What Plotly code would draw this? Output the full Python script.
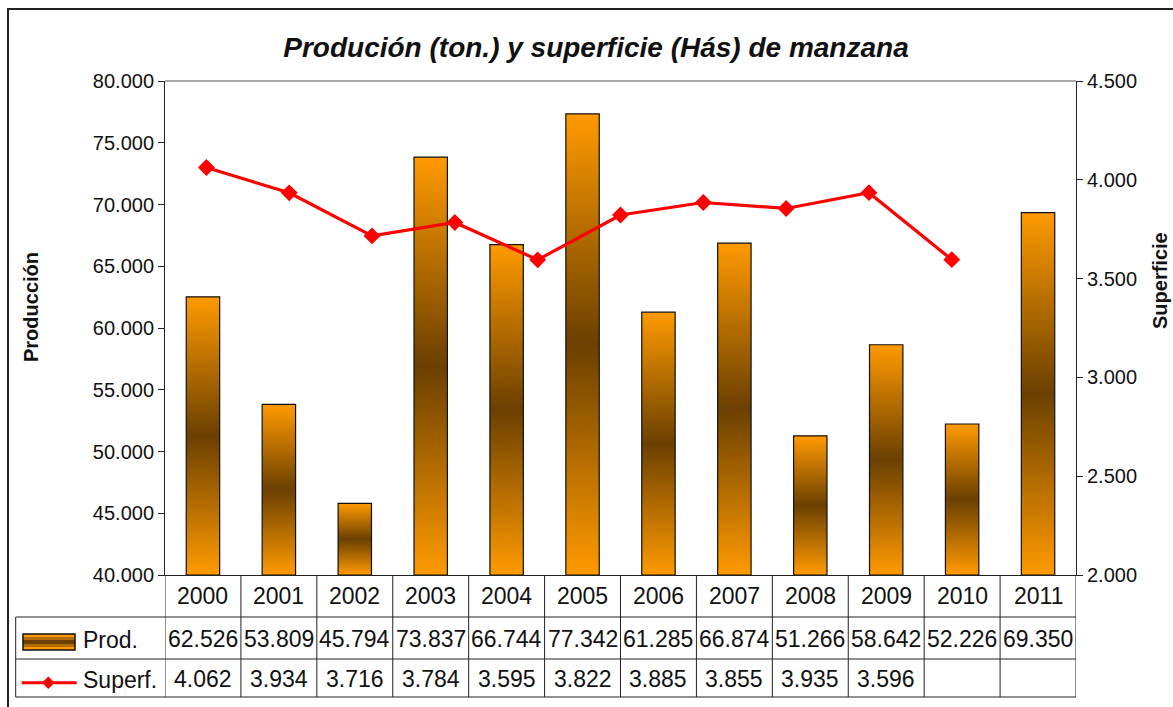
import plotly.graph_objects as go

# ---------------- data ----------------
years = ["2000", "2001", "2002", "2003", "2004", "2005", "2006",
         "2007", "2008", "2009", "2010", "2011"]
prod = [62526, 53809, 45794, 73837, 66744, 77342, 61285,
        66874, 51266, 58642, 52226, 69350]
superf = [4062, 3934, 3716, 3784, 3595, 3822, 3885, 3855, 3935, 3596]
# the line sits on its own category axis with 11 slots (last one empty)
superf_slots = 11

title_text = "Produción (ton.) y superficie (Hás) de manzana"
y1_title = "Producción"
y2_title = "Superficie"
row_labels = ["Prod.", "Superf."]

# ---------------- style ----------------
FONT = "Liberation Sans, Arial, sans-serif"
ORANGE = "#FF9A00"
DARK = "#6B4000"
MID = "#B46C00"
RED = "#FF0000"
W, H = 1173, 707
L, R, T, B = 165, 97, 81, 132
PW, PH = W - L - R, H - T - B
BAR_W = 0.44
BASE = 40000


def fx(p):  # pixel x -> paper x (layout decoration only)
    return (p - L) / PW


def fy(p):  # pixel y -> paper y (layout decoration only)
    return (H - B - p) / PH


def fmt(v):
    return f"{v:,}".replace(",", ".")


fig = go.Figure()

# bars with vertical gradient (orange - dark brown - orange)
for i, v in enumerate(prod):
    x0, x1 = i - BAR_W / 2, i + BAR_W / 2
    fig.add_trace(go.Scatter(
        x=[x0, x1, x1, x0, x0], y=[BASE, BASE, v, v, BASE],
        mode="lines", fill="toself",
        fillgradient=dict(type="vertical",
                          colorscale=[[0, ORANGE], [0.5, DARK], [1, ORANGE]]),
        line=dict(color="#111111", width=1.2),
        hoverinfo="skip", showlegend=False, xaxis="x", yaxis="y"))

# surface line
fig.add_trace(go.Scatter(
    x=list(range(len(superf))), y=superf, mode="lines+markers",
    line=dict(color=RED, width=3.2),
    marker=dict(symbol="diamond", size=13, color=RED),
    showlegend=False, xaxis="x2", yaxis="y2", name="Superf."))

shapes = []
annotations = []

# top border of plot area (gray)
shapes.append(dict(type="line", xref="paper", yref="paper", x0=0, x1=1,
                   y0=1, y1=1, line=dict(color="#8c8c8c", width=1.5)))

# data table grid
line_c = dict(color="#222222", width=1)
for k in range(len(years) + 1):
    shapes.append(dict(type="line", xref="x", yref="paper",
                       x0=k - 0.5, x1=k - 0.5, y0=fy(697), y1=0, line=line_c))
for py in (617, 659, 697):
    shapes.append(dict(type="line", xref="paper", yref="paper",
                       x0=fx(15.7), x1=1, y0=fy(py), y1=fy(py), line=line_c))
shapes.append(dict(type="line", xref="paper", yref="paper",
                   x0=fx(15.7), x1=fx(15.7), y0=fy(617), y1=fy(697), line=line_c))

# outer chart border
shapes.append(dict(type="rect", xref="paper", yref="paper",
                   x0=fx(8), x1=fx(1190), y0=fy(9), y1=fy(725),
                   line=dict(color="#222222", width=2)))

# legend keys inside the table
shapes.append(dict(type="rect", xref="paper", yref="paper",
                   x0=fx(23), x1=fx(75), y0=fy(634), y1=fy(650),
                   fillcolor=ORANGE, line=dict(width=0)))
shapes.append(dict(type="rect", xref="paper", yref="paper",
                   x0=fx(23), x1=fx(75), y0=fy(637), y1=fy(647),
                   fillcolor=MID, line=dict(width=0)))
shapes.append(dict(type="rect", xref="paper", yref="paper",
                   x0=fx(23), x1=fx(75), y0=fy(640), y1=fy(644),
                   fillcolor=DARK, line=dict(width=0)))
shapes.append(dict(type="rect", xref="paper", yref="paper",
                   x0=fx(23), x1=fx(75), y0=fy(634), y1=fy(650),
                   fillcolor="rgba(0,0,0,0)", line=dict(color="#111111", width=1.5)))
shapes.append(dict(type="line", xref="paper", yref="paper",
                   x0=fx(21.7), x1=fx(76.7), y0=fy(682.7), y1=fy(682.7),
                   line=dict(color=RED, width=3)))
cx, cy, d = 48.3, 682.7, 6
shapes.append(dict(type="path", xref="paper", yref="paper",
                   path=(f"M {fx(cx)},{fy(cy - d)} L {fx(cx + d)},{fy(cy)} "
                         f"L {fx(cx)},{fy(cy + d)} L {fx(cx - d)},{fy(cy)} Z"),
                   fillcolor=RED, line=dict(color=RED, width=0.5)))

TFONT = dict(family=FONT, size=23, color="#111111")
# years row
for i, yr in enumerate(years):
    annotations.append(dict(x=i, y=fy(596), xref="x", yref="paper", text=yr,
                            showarrow=False, font=TFONT, xanchor="center",
                            yanchor="middle"))
# production row
for i, v in enumerate(prod):
    annotations.append(dict(x=i, y=fy(639), xref="x", yref="paper", text=fmt(v),
                            showarrow=False, font=TFONT, xanchor="center",
                            yanchor="middle"))
# surface row
for i, v in enumerate(superf):
    annotations.append(dict(x=i, y=fy(679), xref="x", yref="paper", text=fmt(v),
                            showarrow=False, font=TFONT, xanchor="center",
                            yanchor="middle"))
# row labels
annotations.append(dict(x=fx(81), y=fy(640), xref="paper", yref="paper",
                        text=row_labels[0], showarrow=False, font=TFONT,
                        xanchor="left", yanchor="middle"))
annotations.append(dict(x=fx(81), y=fy(680), xref="paper", yref="paper",
                        text=row_labels[1], showarrow=False, font=TFONT,
                        xanchor="left", yanchor="middle"))

# axis titles
annotations.append(dict(x=fx(31), y=fy(307), xref="paper", yref="paper",
                        text=f"<b>{y1_title}</b>", textangle=-90, showarrow=False,
                        font=dict(family=FONT, size=20, color="#111111"),
                        xanchor="center", yanchor="middle"))
annotations.append(dict(x=fx(1160), y=fy(281), xref="paper", yref="paper",
                        text=f"<b>{y2_title}</b>", textangle=-90, showarrow=False,
                        font=dict(family=FONT, size=20, color="#111111"),
                        xanchor="center", yanchor="middle"))

fig.update_layout(
    width=W, height=H,
    margin=dict(l=L, r=R, t=T, b=B, autoexpand=False),
    paper_bgcolor="white", plot_bgcolor="white",
    separators=",.",
    font=dict(family=FONT, size=20, color="#111111"),
    title=dict(text=title_text, x=596 / W, xref="container", xanchor="center",
               y=1 - 47 / H, yref="container", yanchor="middle",
               font=dict(family=FONT, size=28, color="#111111",
                         weight="bold", style="italic")),
    showlegend=False,
    xaxis=dict(range=[-0.5, len(years) - 0.5], showticklabels=False,
               showgrid=False, zeroline=False, showline=True,
               linecolor="#222222", linewidth=1, ticks=""),
    xaxis2=dict(range=[-0.5, superf_slots - 0.5], overlaying="x",
                visible=False, anchor="y2"),
    yaxis=dict(range=[40000, 80000], tickvals=list(range(40000, 80001, 5000)),
               tickformat=",.0f", showgrid=False, zeroline=False,
               showline=True, linecolor="#222222", linewidth=1,
               ticks="outside", ticklen=6, tickcolor="#222222",
               tickfont=dict(family=FONT, size=20, color="#111111")),
    yaxis2=dict(range=[2000, 4500], tickvals=list(range(2000, 4501, 500)),
                tickformat=",.0f", overlaying="y", side="right", anchor="x2",
                showgrid=False, zeroline=False, showline=True,
                linecolor="#222222", linewidth=1, ticks="outside", ticklen=6,
                tickcolor="#222222",
                tickfont=dict(family=FONT, size=20, color="#111111")),
    shapes=shapes,
    annotations=annotations,
)

fig.write_html("out.html",
               config={"displayModeBar": False},
               post_script="document.body.style.margin='0';"
                           "document.body.style.overflow='hidden';")
